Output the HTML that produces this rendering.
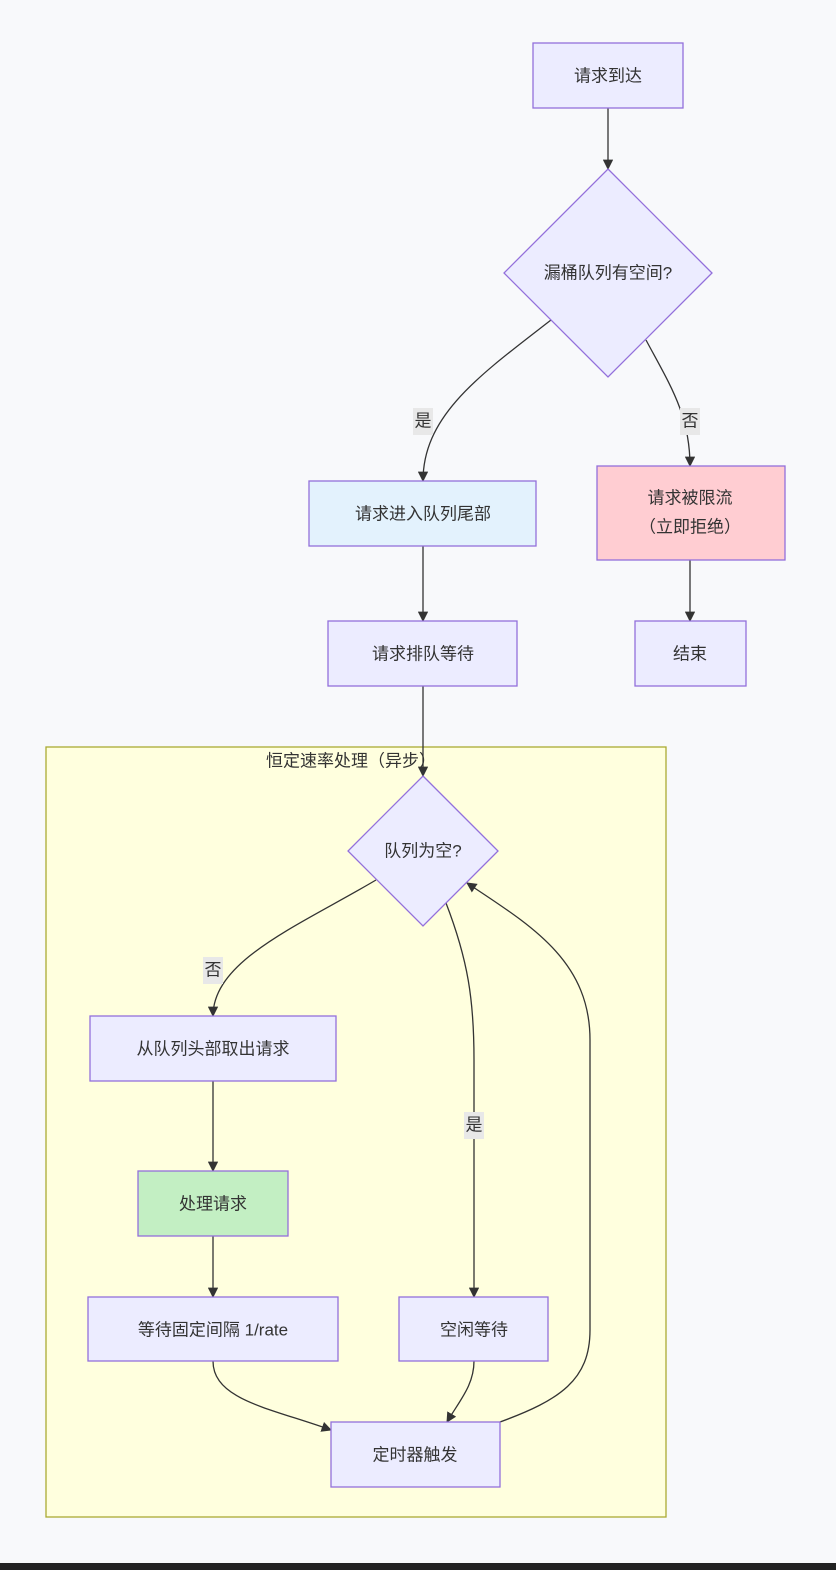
<!DOCTYPE html>
<html><head><meta charset="utf-8"><style>
html,body{margin:0;padding:0;background:#f8f9fb;}
svg{display:block;}
text{font-family:"Liberation Sans","Noto Sans CJK SC",sans-serif;font-size:17px;fill:#333;text-anchor:middle;dominant-baseline:central;}
.n{fill:#ececff;stroke:#9370db;stroke-width:1.3;}
.e{fill:none;stroke:#333;stroke-width:1.3;}
.lb{fill:#e8e8e8;}
</style></head><body>
<svg width="836" height="1570" viewBox="0 0 836 1570" xmlns="http://www.w3.org/2000/svg">
<defs><marker id="a" viewBox="0 0 10 10" refX="9" refY="5" markerWidth="8" markerHeight="8" orient="auto"><path d="M0,0L10,5L0,10z" fill="#333"/></marker></defs>
<rect x="0" y="0" width="836" height="1570" fill="#f8f9fb"/>
<rect x="0" y="1563" width="836" height="7" fill="#222"/>
<rect x="46" y="747" width="620" height="770" fill="#ffffde" stroke="#aaaa33" stroke-width="1.3"/>
<text x="351" y="761">恒定速率处理（异步）</text>

<!-- edges -->
<path class="e" marker-end="url(#a)" d="M608,108 L608,169"/>
<path class="e" marker-end="url(#a)" d="M551,320 C480,375 423,415 423,481"/>
<path class="e" marker-end="url(#a)" d="M646,340 C670,385 690,415 690,466"/>
<path class="e" marker-end="url(#a)" d="M423,546 L423,621"/>
<path class="e" marker-end="url(#a)" d="M690,560 L690,621"/>
<path class="e" marker-end="url(#a)" d="M423,686 L423,776"/>
<path class="e" marker-end="url(#a)" d="M376,880 C300,925 213,960 213,1016"/>
<path class="e" marker-end="url(#a)" d="M213,1081 L213,1171"/>
<path class="e" marker-end="url(#a)" d="M213,1236 L213,1297"/>
<path class="e" marker-end="url(#a)" d="M446,903 C468,960 474,1000 474,1060 L474,1297"/>
<path class="e" marker-end="url(#a)" d="M213,1361 C213,1400 270,1408 331,1430"/>
<path class="e" marker-end="url(#a)" d="M474,1361 C474,1385 460,1400 447,1422"/>
<path class="e" marker-end="url(#a)" d="M500,1422 C560,1400 590,1380 590,1330 L590,1040 C590,960 530,925 467,883"/>

<!-- edge labels -->
<rect class="lb" x="413" y="408" width="20" height="27"/><text x="423" y="421">是</text>
<rect class="lb" x="680" y="408" width="20" height="27"/><text x="690" y="421">否</text>
<rect class="lb" x="203" y="957" width="20" height="27"/><text x="213" y="970">否</text>
<rect class="lb" x="464" y="1112" width="20" height="27"/><text x="474" y="1125">是</text>

<!-- nodes -->
<rect class="n" x="533" y="43" width="150" height="65"/><text x="608" y="76">请求到达</text>
<polygon class="n" points="608,169 712,273 608,377 504,273"/><text x="608" y="273">漏桶队列有空间?</text>
<rect class="n" x="309" y="481" width="227" height="65" style="fill:#e3f2fd"/><text x="423" y="514">请求进入队列尾部</text>
<rect class="n" x="597" y="466" width="188" height="94" style="fill:#ffcdd2"/><text x="690" y="498">请求被限流</text><text x="690" y="527">（立即拒绝）</text>
<rect class="n" x="328" y="621" width="189" height="65"/><text x="423" y="654">请求排队等待</text>
<rect class="n" x="635" y="621" width="111" height="65"/><text x="690" y="654">结束</text>
<polygon class="n" points="423,776 498,851 423,926 348,851"/><text x="423" y="851">队列为空?</text>
<rect class="n" x="90" y="1016" width="246" height="65"/><text x="213" y="1049">从队列头部取出请求</text>
<rect class="n" x="138" y="1171" width="150" height="65" style="fill:#c3efc3"/><text x="213" y="1204">处理请求</text>
<rect class="n" x="88" y="1297" width="250" height="64"/><text x="213" y="1330">等待固定间隔 1/rate</text>
<rect class="n" x="399" y="1297" width="149" height="64"/><text x="474" y="1330">空闲等待</text>
<rect class="n" x="331" y="1422" width="169" height="65"/><text x="415" y="1455">定时器触发</text>
</svg>
</body></html>
